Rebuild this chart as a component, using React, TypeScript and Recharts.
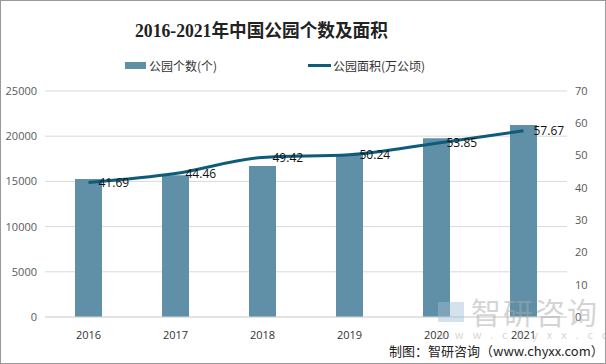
import React from 'react';
import { ComposedChart, Bar, Line, XAxis, YAxis, CartesianGrid, LabelList } from 'recharts';

const years = ['2016', '2017', '2018', '2019', '2020', '2021'];
const parkCounts = [15270, 15680, 16700, 18000, 19770, 21240];
const parkArea = [41.69, 44.46, 49.42, 50.24, 53.85, 57.67];
const leftTicks = [0, 5000, 10000, 15000, 20000, 25000];
const rightTicks = [0, 10, 20, 30, 40, 50, 60, 70];

const data = years.map((year, i) => ({ year, count: parkCounts[i], area: parkArea[i] }));

const BAR_COLOR = '#5f90a8';
const LINE_COLOR = '#0f5b7a';
const tickStyle = { fill: '#595959', fontSize: 11, fontFamily: 'Open Sans, sans-serif' };

export default function App() {
  return (
    <div style={{ position: 'fixed', left: 0, top: 0, width: 606, height: 364, background: '#fff', border: '1px solid #999', boxSizing: 'border-box', overflow: 'hidden', fontFamily: '"Noto Sans CJK SC", sans-serif' }}>
      <div style={{ position: 'absolute', left: 134, top: 16, whiteSpace: 'nowrap', fontSize: 18, fontWeight: 'bold', fontFamily: '"Liberation Serif", "Noto Sans CJK SC", serif', color: '#222', lineHeight: '28px', transform: 'scaleX(0.98)', transformOrigin: 'left' }}>
        2016-2021年中国公园个数及面积
      </div>

      {/* Legend */}
      <div style={{ position: 'absolute', left: 124, top: 56, display: 'flex', alignItems: 'center', fontSize: 12, color: '#333' }}>
        <div style={{ width: 21, height: 7, background: BAR_COLOR, marginRight: 3 }} />
        <span>公园个数(个)</span>
      </div>
      <div style={{ position: 'absolute', left: 307, top: 56, display: 'flex', alignItems: 'center', fontSize: 12, color: '#333' }}>
        <div style={{ width: 23, height: 3, background: LINE_COLOR, marginRight: 2 }} />
        <span>公园面积(万公顷)</span>
      </div>

      <div style={{ position: 'absolute', left: 0, top: 0 }}>
        <ComposedChart width={606} height={364} data={data} margin={{ top: 90, right: 0, bottom: 28, left: 0 }}>
          <CartesianGrid vertical={false} stroke="#d9d9d9" yAxisId="left" />
          <XAxis dataKey="year" axisLine={{ stroke: '#d9d9d9' }} tickLine={false} height={20} tick={{ ...tickStyle, fill: '#333' }} tickMargin={8} />
          <YAxis yAxisId="left" domain={[0, 25000]} ticks={leftTicks} width={44} axisLine={false} tickLine={false} tick={tickStyle} />
          <YAxis yAxisId="right" orientation="right" domain={[0, 70]} ticks={rightTicks} width={40} axisLine={false} tickLine={false} tick={tickStyle} />
          <Bar yAxisId="left" dataKey="count" fill={BAR_COLOR} barSize={27} isAnimationActive={false} />
          <Line yAxisId="right" dataKey="area" type="monotone" stroke={LINE_COLOR} strokeWidth={3} dot={false} isAnimationActive={false}>
            <LabelList dataKey="area" position="right" offset={10} style={{ fill: '#111', fontSize: 12, fontFamily: 'Open Sans, sans-serif' }} />
          </Line>
        </ComposedChart>
      </div>

      {/* watermark */}
      <div style={{ position: 'absolute', left: 437, top: 301, width: 26, height: 20, background: 'rgba(160,190,215,0.45)' }} />
      <div style={{ position: 'absolute', left: 470, top: 292, fontSize: 30, color: 'rgba(170,170,170,0.5)', letterSpacing: 2, lineHeight: '36px' }}>智研咨询</div>
      <div style={{ position: 'absolute', left: 436, top: 326, fontSize: 11, color: 'rgba(170,170,170,0.5)', letterSpacing: 9, lineHeight: '14px' }}>www.chyxx.com</div>

      <div style={{ position: 'absolute', left: 388, top: 340, fontSize: 13, color: '#222', lineHeight: '20px', whiteSpace: 'nowrap' }}>
        制图：智研咨询（www.chyxx.com）
      </div>
    </div>
  );
}
